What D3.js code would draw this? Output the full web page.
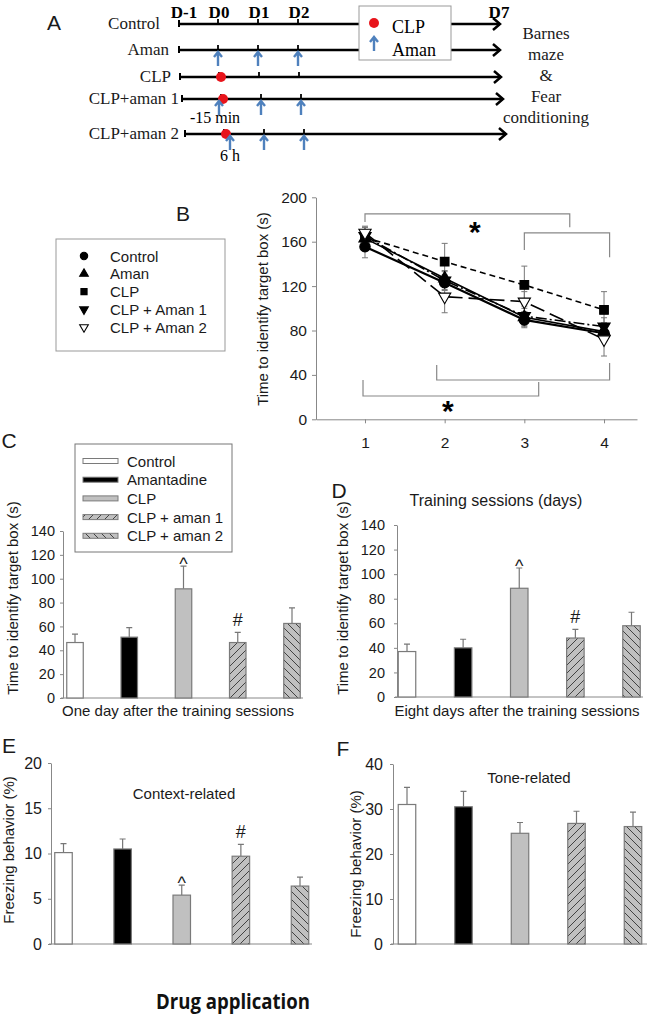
<!DOCTYPE html>
<html>
<head>
<meta charset="utf-8">
<script src="https://cdn.jsdelivr.net/npm/d3@7"></script>
<style>
  body { margin: 0; background: #fff; }
  svg { display: block; }
</style>
</head>
<body>
<div id="chart"></div>
<script>
// ------------------------------ data ------------------------------------------
// panel A: experimental timeline
const tlRows = ['Control', 'Aman', 'CLP', 'CLP+aman 1', 'CLP+aman 2'];
const tlDayLabels = ['D-1', 'D0', 'D1', 'D2', 'D7'];
const tlDays = [-1, 0, 1, 2, 7];
const tlClp = [null, null, 0, 0, 0];                 // day of CLP surgery
const tlAman = [[], [0, 1, 2], [], [-0.05, 1, 2], [0.15, 1, 2]]; // amantadine doses
const tlTests = ['Barnes', 'maze', '&', 'Fear', 'conditioning'];

// panel B: Barnes maze training
const days = [1, 2, 3, 4];
const bSeries = ['Control', 'Aman', 'CLP', 'CLP + Aman 1', 'CLP + Aman 2'];
const bControl = [155.5, 123, 89.5, 77.5];
const bAman = [163, 127, 92, 79];
const bClp = [164, 142, 121, 98.5];
const bAman1 = [165, 125, 93, 83.5];
const bAman2 = [168, 110.5, 106, 72];
const bControlErr = [10, 7, 7, 6];
const bAmanErr = [8, 7, 8, 7];
const bClpErr = [9, 16.5, 17, 16.5];
const bAman1Err = [8, 8, 9, 8];
const bAman2Err = [6, 14.5, 9, 15];
const bTicks = [0, 40, 80, 120, 160, 200];

// panels C-F: bar charts
const groups = ['Control', 'Amantadine', 'CLP', 'CLP + aman 1', 'CLP + aman 2'];
const cMeans = [46.5, 51, 91.5, 46.5, 62.5];
const cErr = [7, 8, 19, 8.5, 13];
const dMeans = [37, 40, 88.5, 48, 58];
const dErr = [6, 7, 16.5, 7, 11];
const eMeans = [10.1, 10.5, 5.4, 9.7, 6.4];
const eErr = [1.0, 1.1, 1.1, 1.3, 1.0];
const fMeans = [31, 30.5, 24.6, 26.8, 26.1];
const fErr = [3.8, 3.4, 2.4, 2.7, 3.2];
const sigMarks = ['', '', '^', '#', ''];
const noMarks = ['', '', '', '', ''];
const timeTicks = [0, 20, 40, 60, 80, 100, 120, 140];
const eTicks = [0, 5, 10, 15, 20];
const fTicks = [0, 10, 20, 30, 40];

// ------------------------------ settings --------------------------------------
const W = 651, H = 1014;
const sans = '"Liberation Sans", Arial, sans-serif';
const serif = '"Liberation Serif", "Times New Roman", serif';
const axisColor = '#888';
const textColor = '#1a1a1a';
const blue = '#4f81bd';
const groupFill = ['#fff', '#000', '#c0c0c0', 'url(#hatchUp)', 'url(#hatchDown)'];

const svg = d3.select('#chart').append('svg')
  .attr('width', W).attr('height', H)
  .style('background', '#fff');

//--------------------- patterns -----------------------------------------------
const defs = svg.append('defs');
[['hatchUp', 'M-2,2 L2,-2 M0,8 L8,0 M6,10 L10,6'],
 ['hatchDown', 'M-2,6 L2,10 M0,0 L8,8 M6,-2 L10,2']].forEach(function(h){
  const p = defs.append('pattern').attr('id', h[0])
    .attr('patternUnits', 'userSpaceOnUse').attr('width', 8).attr('height', 8);
  p.append('rect').attr('width', 8).attr('height', 8).attr('fill', '#c0c0c0');
  p.append('path').attr('d', h[1]).attr('stroke', '#333').attr('stroke-width', 0.9);
});

function panelLetter(t, x, y){
  svg.append('text').attr('x', x).attr('y', y)
    .attr('text-anchor', 'middle').attr('dominant-baseline', 'central')
    .style('font-family', sans).style('font-size', '21px').style('fill', textColor)
    .text(t);
}

function styleAxis(g, fs){
  g.selectAll('path, line').attr('stroke', axisColor);
  g.selectAll('text').style('font-family', sans).style('font-size', fs + 'px').style('fill', textColor);
}

//--------------------- Panel A: timeline --------------------------------------
const tlX = d3.scaleLinear().domain([-1, 7]).range([178, 498]);
const rowY = [24, 50, 77, 99, 134];
const rowShift = [0, 0, 1, 3, 6];
const rowLabelEnd = [160, 169, 171, 179, 179];

panelLetter('A', 54, 22);

const gA = svg.append('g');
gA.selectAll('text.day').data(tlDayLabels).enter().append('text')
  .attr('x', function(d, i){ return tlX(tlDays[i]) + (i === 0 ? 6 : 1); })
  .attr('y', 18)
  .attr('text-anchor', 'middle')
  .style('font-family', serif).style('font-weight', 'bold').style('font-size', '17px')
  .text(function(d){ return d; });

function upArrow(g, x, y){
  g.append('path')
    .attr('d', 'M' + x + ',' + (y + 14) + ' V' + y + ' M' + (x - 4) + ',' + (y + 5) + ' L' + x + ',' + y + ' L' + (x + 4) + ',' + (y + 5))
    .attr('fill', 'none').attr('stroke', blue).attr('stroke-width', 2.4);
}

tlRows.forEach(function(name, i){
  const y = rowY[i], s = rowShift[i];
  const x0 = tlX(-1) + s, x1 = tlX(7) + 2 + s;
  gA.append('text').attr('x', rowLabelEnd[i]).attr('y', y + 5)
    .attr('text-anchor', 'end')
    .style('font-family', serif).style('font-size', '17px').style('fill', textColor)
    .text(name);
  gA.append('line').attr('x1', x0).attr('x2', x1).attr('y1', y).attr('y2', y)
    .attr('stroke', '#000').attr('stroke-width', 2.5);
  gA.append('path')
    .attr('d', 'M' + (x1 - 7) + ',' + (y - 6) + ' L' + x1 + ',' + y + ' L' + (x1 - 7) + ',' + (y + 6))
    .attr('fill', 'none').attr('stroke', '#000').attr('stroke-width', 2.5);
  gA.append('line').attr('x1', x0 + 1).attr('x2', x0 + 1).attr('y1', y - 4).attr('y2', y + 3)
    .attr('stroke', '#000').attr('stroke-width', 2);
  [0, 1, 2].forEach(function(d){
    gA.append('line').attr('x1', tlX(d) + s).attr('x2', tlX(d) + s)
      .attr('y1', y - 5).attr('y2', y)
      .attr('stroke', '#000').attr('stroke-width', 1.8);
  });
  if (tlClp[i] !== null){
    gA.append('circle').attr('cx', tlX(tlClp[i]) + s + 2).attr('cy', y).attr('r', 5)
      .attr('fill', '#e8141b');
  }
  tlAman[i].forEach(function(d){ upArrow(gA, tlX(d) + s, y + 2); });
});

gA.append('text').attr('x', 215).attr('y', 123).attr('text-anchor', 'middle')
  .style('font-family', serif).style('font-size', '16px').text('-15 min');
gA.append('text').attr('x', 230).attr('y', 161).attr('text-anchor', 'middle')
  .style('font-family', serif).style('font-size', '16px').text('6 h');

gA.selectAll('text.test').data(tlTests).enter().append('text')
  .attr('x', 546)
  .attr('y', function(d, i){ return 39 + i * 21; })
  .attr('text-anchor', 'middle')
  .style('font-family', serif).style('font-size', '17px').style('fill', textColor)
  .text(function(d){ return d; });

// legend A
gA.append('rect').attr('x', 359).attr('y', 6).attr('width', 92).attr('height', 54)
  .attr('fill', '#fff').attr('stroke', '#999');
gA.append('circle').attr('cx', 374).attr('cy', 23).attr('r', 5).attr('fill', '#e8141b');
gA.append('text').attr('x', 392).attr('y', 33)
  .style('font-family', serif).style('font-size', '18px').text('CLP');
upArrow(gA, 374, 37);
gA.append('text').attr('x', 392).attr('y', 56)
  .style('font-family', serif).style('font-size', '18px').text('Aman');

//--------------------- Panel B: line chart ------------------------------------
panelLetter('B', 183, 213);

const xB = d3.scaleLinear().domain([0.385, 4.414]).range([316, 637]);
const yB = d3.scaleLinear().domain([0, 200]).range([419.3, 197.3]);
const gB = svg.append('g');

styleAxis(gB.append('g').attr('transform', 'translate(0,419.3)')
  .call(d3.axisBottom(xB).tickValues(days).tickFormat(d3.format('d'))
    .tickSize(4).tickSizeOuter(0).tickPadding(14)), 15.5);
styleAxis(gB.append('g').attr('transform', 'translate(316,0)')
  .call(d3.axisLeft(yB).tickValues(bTicks).tickSize(4).tickSizeOuter(0).tickPadding(5)), 15.5);

gB.append('text')
  .attr('transform', 'translate(262,309) rotate(-90)')
  .attr('text-anchor', 'middle').attr('dominant-baseline', 'central')
  .style('font-family', sans).style('font-size', '15px').style('fill', textColor)
  .text('Time to identify target box (s)');

// significance brackets (day, value)
const brackets = [
  [[1, 177.8], [1, 185], [3.57, 185], [3.57, 173]],
  [[3, 152.5], [3, 168], [4.07, 168], [4.07, 146]],
  [[1.9, 49], [1.9, 35.4], [4.07, 35.4], [4.07, 50.8]],
  [[0.975, 35.4], [0.975, 21], [3.18, 21], [3.18, 33.6]]
];
const bracketLine = d3.line().x(function(d){ return xB(d[0]); }).y(function(d){ return yB(d[1]); });
gB.selectAll('path.bracket').data(brackets).enter().append('path')
  .attr('d', bracketLine).attr('fill', 'none').attr('stroke', axisColor).attr('stroke-width', 1.2);
[[2.38, 175], [2.04, 14]].forEach(function(s){
  gB.append('text').attr('x', xB(s[0])).attr('y', yB(s[1]) + 17)
    .attr('text-anchor', 'middle')
    .style('font-family', sans).style('font-weight', 'bold').style('font-size', '30px')
    .text('*');
});

const bData = [bControl, bAman, bClp, bAman1, bAman2];
const bErrs = [bControlErr, bAmanErr, bClpErr, bAman1Err, bAman2Err];
const bDash = [null, null, '6,4', '11,3,2,3', '15,6'];
const bWidth = [2.2, 1.6, 1.6, 1.6, 1.6];

// error bars
bData.forEach(function(vals, s){
  vals.forEach(function(v, i){
    const x = xB(days[i]), e = bErrs[s][i];
    gB.append('path')
      .attr('d', 'M' + x + ',' + yB(v - e) + 'V' + yB(v + e) +
        'M' + (x - 3) + ',' + yB(v - e) + 'H' + (x + 3) +
        'M' + (x - 3) + ',' + yB(v + e) + 'H' + (x + 3))
      .attr('stroke', '#777').attr('stroke-width', 1).attr('fill', 'none');
  });
});

const lineB = d3.line().x(function(d, i){ return xB(days[i]); }).y(function(d){ return yB(d); });
bData.forEach(function(vals, s){
  gB.append('path').attr('d', lineB(vals))
    .attr('fill', 'none').attr('stroke', '#000')
    .attr('stroke-width', bWidth[s])
    .attr('stroke-dasharray', bDash[s]);
});

function marker(g, type, x, y, scale){
  const k = scale || 1;
  let path;
  if (type === 0) path = d3.symbol(d3.symbolCircle, 85 * k)();
  else if (type === 1) path = d3.symbol(d3.symbolTriangle, 65 * k)();
  else if (type === 2) path = d3.symbol(d3.symbolSquare, 75 * k)();
  else path = d3.symbol(d3.symbolTriangle, 65 * k)();
  const rot = type >= 3 ? ' rotate(180)' : '';
  g.append('path').attr('d', path)
    .attr('transform', 'translate(' + x + ',' + y + ')' + rot)
    .attr('fill', type === 4 ? '#fff' : '#000')
    .attr('stroke', '#000').attr('stroke-width', 1.1);
}

bData.forEach(function(vals, s){
  vals.forEach(function(v, i){ marker(gB, s, xB(days[i]), yB(v)); });
});

// legend B
gB.append('rect').attr('x', 56).attr('y', 239).attr('width', 169).attr('height', 112)
  .attr('fill', '#fff').attr('stroke', '#999');
bSeries.forEach(function(name, i){
  const y = 256 + i * 17.8;
  marker(gB, i, 84, y, 0.5);
  gB.append('text').attr('x', 110).attr('y', y).attr('dominant-baseline', 'central')
    .style('font-family', sans).style('font-size', '15px').style('fill', textColor)
    .text(name);
});

svg.append('text').attr('x', 496).attr('y', 500)
  .attr('text-anchor', 'middle').attr('dominant-baseline', 'central')
  .style('font-family', sans).style('font-size', '16px').style('fill', textColor)
  .text('Training sessions (days)');

//--------------------- Panels C-F: bar charts ---------------------------------
function barPanel(p){
  const g = svg.append('g');
  const y = d3.scaleLinear().domain([0, p.ticks[p.ticks.length - 1]]).range([p.y0, p.yTop]);
  const x = d3.scalePoint().domain(groups).range(p.centers);
  const bw = p.barW;

  styleAxis(g.append('g').attr('transform', 'translate(' + p.left + ',0)')
    .call(d3.axisLeft(y).tickValues(p.ticks).tickSize(3).tickSizeOuter(0).tickPadding(p.pad)), p.fs);
  g.append('line').attr('x1', p.left - 2).attr('x2', p.right)
    .attr('y1', p.y0).attr('y2', p.y0).attr('stroke', axisColor);

  // error bars (upper only)
  g.selectAll('path.err').data(p.means).enter().append('path')
    .attr('d', function(d, i){
      const cx = x(groups[i]), top = y(d + p.errs[i]);
      return 'M' + cx + ',' + y(d) + 'V' + top + 'M' + (cx - 3) + ',' + top + 'H' + (cx + 3);
    })
    .attr('stroke', '#777').attr('stroke-width', 1.2).attr('fill', 'none');

  g.selectAll('rect.bar').data(p.means).enter().append('rect')
    .attr('x', function(d, i){ return x(groups[i]) - bw / 2; })
    .attr('y', function(d){ return y(d); })
    .attr('width', bw)
    .attr('height', function(d){ return p.y0 - y(d); })
    .attr('fill', function(d, i){ return groupFill[i]; })
    .attr('stroke', '#7a7a7a').attr('stroke-width', 1.2);

  g.selectAll('text.sig').data(p.marks).enter().append('text')
    .attr('x', function(d, i){ return x(groups[i]); })
    .attr('y', function(d, i){
      const top = y(p.means[i] + p.errs[i]);
      return d === '^' ? top + 4 : top - 6;
    })
    .attr('text-anchor', 'middle')
    .style('font-family', sans).style('font-size', '18px').style('fill', textColor)
    .text(function(d){ return d; });

  g.append('text')
    .attr('transform', 'translate(' + p.yLabel[0] + ',' + p.yLabel[1] + ') rotate(-90)')
    .attr('text-anchor', 'middle').attr('dominant-baseline', 'central')
    .style('font-family', sans).style('font-size', '15px').style('fill', textColor)
    .text(p.yTitle);

  if (p.title){
    g.append('text').attr('x', p.title[0]).attr('y', p.title[1])
      .attr('text-anchor', 'middle').attr('dominant-baseline', 'central')
      .style('font-family', sans).style('font-size', '15px').style('fill', textColor)
      .text(p.title[2]);
  }
}

panelLetter('C', 9, 440);
barPanel({
  means: cMeans, errs: cErr, marks: sigMarks, ticks: timeTicks,
  left: 63, right: 303, y0: 698, yTop: 531, centers: [75, 292], barW: 16.5,
  fs: 14.5, pad: 5, yLabel: [12.5, 598], yTitle: 'Time to identify target box (s)',
  title: [178, 710, 'One day after the training sessions']
});

panelLetter('D', 339, 490);
barPanel({
  means: dMeans, errs: dErr, marks: sigMarks, ticks: timeTicks,
  left: 397, right: 643, y0: 697, yTop: 525, centers: [407, 631.5], barW: 17.5,
  fs: 14.5, pad: 9, yLabel: [342, 598], yTitle: 'Time to identify target box (s)',
  title: [517, 710, 'Eight days after the training sessions']
});

panelLetter('E', 9, 745);
barPanel({
  means: eMeans, errs: eErr, marks: sigMarks, ticks: eTicks,
  left: 51, right: 312, y0: 944, yTop: 763, centers: [63.5, 300], barW: 17.5,
  fs: 16, pad: 6, yLabel: [8, 850], yTitle: 'Freezing behavior (%)',
  title: [184, 793, 'Context-related']
});

panelLetter('F', 343, 748);
barPanel({
  means: fMeans, errs: fErr, marks: noMarks, ticks: fTicks,
  left: 393, right: 647, y0: 944, yTop: 764, centers: [407, 633], barW: 17.5,
  fs: 16, pad: 7, yLabel: [355, 864], yTitle: 'Freezing behavior (%)',
  title: [529, 777, 'Tone-related']
});

// legend C (shared groups)
const gL = svg.append('g');
gL.append('rect').attr('x', 75).attr('y', 444).attr('width', 157).attr('height', 108)
  .attr('fill', '#fff').attr('stroke', '#777');
groups.forEach(function(name, i){
  const y = 461 + i * 18.7;
  gL.append('rect').attr('x', 83).attr('y', y - 2.5).attr('width', 35).attr('height', 5)
    .attr('fill', groupFill[i]).attr('stroke', '#7a7a7a').attr('stroke-width', 1);
  gL.append('text').attr('x', 127).attr('y', y).attr('dominant-baseline', 'central')
    .style('font-family', sans).style('font-size', '15px').style('fill', textColor)
    .text(name);
});

svg.append('text').attr('x', 233).attr('y', 1009)
  .attr('text-anchor', 'middle')
  .attr('textLength', 154).attr('lengthAdjust', 'spacingAndGlyphs')
  .style('font-family', '"Open Sans", sans-serif').style('font-weight', 'bold')
  .style('font-size', '21px').style('fill', '#111')
  .text('Drug application');
</script>
</body>
</html>
